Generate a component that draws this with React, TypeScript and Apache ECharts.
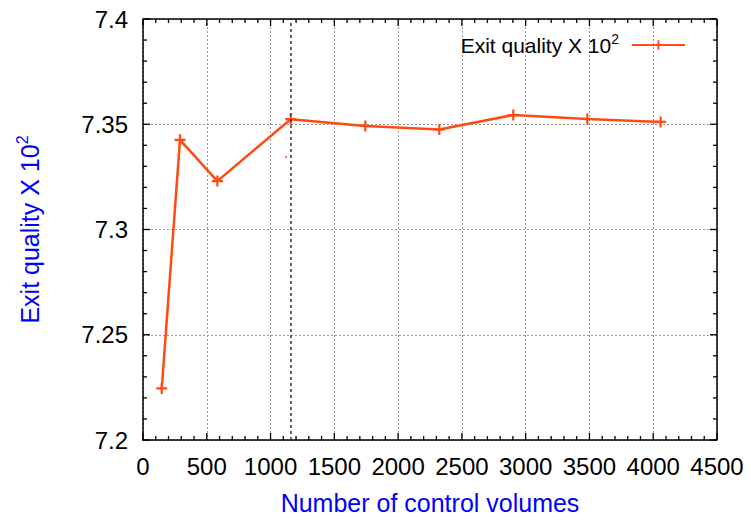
import React, { useEffect, useRef } from "react";
import * as echarts from "echarts";

const controlVolumes = [147, 290, 583, 1158, 1743, 2323, 2903, 3483, 4058];
const exitQuality = [7.2245, 7.3426, 7.323, 7.3524, 7.3492, 7.3475, 7.3544, 7.3525, 7.3511];
const strayPoint = [[1121, 7.3344]];
const markerX = 1158;
const xTickLabels = [0, 500, 1000, 1500, 2000, 2500, 3000, 3500, 4000, 4500];
const yTickLabels = [7.2, 7.25, 7.3, 7.35, 7.4];
const minorPerMajor = 5;

const FONT = "Liberation Sans";
const RED = "#ff4a14";
const PLUS = "path://M4,0 H6 V4 H10 V6 H6 V10 H4 V6 H0 V4 H4 Z";

function withMinor(majors: number[]) {
  const out: [number, number][] = [];
  for (let i = 0; i < majors.length; i++) {
    out.push([majors[i], 1]);
    if (i < majors.length - 1) {
      const step = (majors[i + 1] - majors[i]) / minorPerMajor;
      for (let k = 1; k < minorPerMajor; k++) out.push([majors[i] + step * k, 0]);
    }
  }
  return out;
}

export default function App() {
  const ref = useRef<HTMLDivElement>(null);
  useEffect(() => {
    const chart = echarts.init(ref.current!, null, { renderer: "svg" });
    const xMin = xTickLabels[0];
    const xMax = xTickLabels[xTickLabels.length - 1];
    const yMin = yTickLabels[0];
    const yMax = yTickLabels[yTickLabels.length - 1];
    const tickStyle = { stroke: "#000", lineWidth: 1.3 };
    const xTickData = withMinor(xTickLabels).map(([v, major]) => [v, yMin, major]);
    const yTickData = withMinor(yTickLabels).map(([v, major]) => [xMin, v, major]);

    chart.setOption({
      animation: false,
      backgroundColor: "#fff",
      grid: { left: 143, right: 34, top: 19, bottom: 77 },
      legend: {
        right: 60,
        top: 27,
        align: "right",
        itemWidth: 53,
        itemHeight: 12,
        data: [{ name: "Exit quality X 10{sup|2}" }],
        formatter: () => "Exit quality X 10{sup|2}",
        textStyle: {
          fontFamily: FONT,
          fontSize: 21,
          color: "#000",
          rich: { sup: { fontFamily: FONT, fontSize: 14, verticalAlign: "top", padding: [0, 8, 12, 0], color: "#000" } },
        },
      },
      xAxis: {
        type: "value",
        min: xMin,
        max: xMax,
        interval: 500,
        axisLine: { show: true, onZero: false, lineStyle: { color: "#000", width: 1.5 } },
        axisTick: { show: false },
        name: "Number of control volumes",
        nameLocation: "middle",
        nameGap: 50,
        nameMoveOverlap: false,
        nameTextStyle: { fontFamily: FONT, fontSize: 25, color: "#0000ff", verticalAlign: "top" },
        axisLabel: { fontFamily: FONT, fontSize: 24, color: "#000", margin: 14, formatter: (v: number) => String(v) },
        splitLine: { show: true, lineStyle: { color: "#999", type: [2, 2], width: 1 } },
      },
      yAxis: {
        type: "value",
        min: yMin,
        max: yMax,
        interval: 0.05,
        axisLine: { show: true, onZero: false, lineStyle: { color: "#000", width: 1.5 } },
        axisTick: { show: false },
        name: "Exit quality X 10{sup|2}",
        nameLocation: "middle",
        nameGap: 98,
        nameMoveOverlap: false,
        nameRotate: 90,
        nameTextStyle: {
          fontFamily: FONT,
          fontSize: 25,
          color: "#0000ff",
          rich: { sup: { fontFamily: FONT, fontSize: 16, color: "#0000ff", verticalAlign: "top", padding: [0, 0, 15, 0] } },
        },
        axisLabel: {
          fontFamily: FONT,
          fontSize: 24,
          color: "#000",
          margin: 15,
          formatter: (v: number) => String(Number(v.toFixed(2))),
        },
        splitLine: { show: true, lineStyle: { color: "#999", type: [2, 2], width: 1 } },
      },
      series: [
        {
          name: "xTicks",
          type: "custom",
          silent: true,
          clip: false,
          z: 5,
          encode: { x: 0, y: 1 },
          data: xTickData,
          renderItem: (params: any, api: any) => {
            const cs = params.coordSys;
            const x = api.coord([api.value(0), api.value(1)])[0];
            const len = api.value(2) ? 7 : 4;
            const top = cs.y;
            const bottom = cs.y + cs.height;
            return {
              type: "group",
              children: [
                { type: "line", shape: { x1: x, y1: bottom, x2: x, y2: bottom - len }, style: tickStyle },
                { type: "line", shape: { x1: x, y1: top, x2: x, y2: top + len }, style: tickStyle },
              ],
            };
          },
        },
        {
          name: "yTicks",
          type: "custom",
          silent: true,
          clip: false,
          z: 5,
          encode: { x: 0, y: 1 },
          data: yTickData,
          renderItem: (params: any, api: any) => {
            const cs = params.coordSys;
            const y = api.coord([api.value(0), api.value(1)])[1];
            const len = api.value(2) ? 7 : 4;
            const left = cs.x;
            const right = cs.x + cs.width;
            return {
              type: "group",
              children: [
                { type: "line", shape: { x1: left, y1: y, x2: left + len, y2: y }, style: tickStyle },
                { type: "line", shape: { x1: right, y1: y, x2: right - len, y2: y }, style: tickStyle },
              ],
            };
          },
        },
        {
          type: "custom",
          name: "frame",
          silent: true,
          clip: false,
          z: 5,
          encode: { x: 0, y: 1 },
          data: [[xMin, yMin]],
          renderItem: (params: any) => {
            const cs = params.coordSys;
            return {
              type: "group",
              children: [
                { type: "line", shape: { x1: cs.x, y1: cs.y, x2: cs.x + cs.width, y2: cs.y }, style: { stroke: "#000", lineWidth: 1.5 } },
                { type: "line", shape: { x1: cs.x + cs.width, y1: cs.y, x2: cs.x + cs.width, y2: cs.y + cs.height }, style: { stroke: "#000", lineWidth: 1.5 } },
              ],
            };
          },
        },
        {
          name: "Exit quality X 10{sup|2}",
          type: "line",
          data: controlVolumes.map((x, i) => [x, exitQuality[i]]),
          lineStyle: { color: RED, width: 2.5 },
          itemStyle: { color: RED },
          symbol: PLUS,
          symbolSize: 11,
          showSymbol: true,
          markLine: {
            silent: true,
            symbol: "none",
            label: { show: false },
            lineStyle: { color: "#333", type: [3, 3], width: 1.5 },
            data: [{ xAxis: markerX }],
          },
          z: 3,
        },
        {
          type: "scatter",
          name: "stray",
          data: strayPoint,
          symbol: "rect",
          symbolSize: 2,
          itemStyle: { color: RED },
        },
      ],
    });
    return () => chart.dispose();
  }, []);
  return <div ref={ref} style={{ position: "fixed", left: 0, top: 0, width: 751, height: 520 }} />;
}
